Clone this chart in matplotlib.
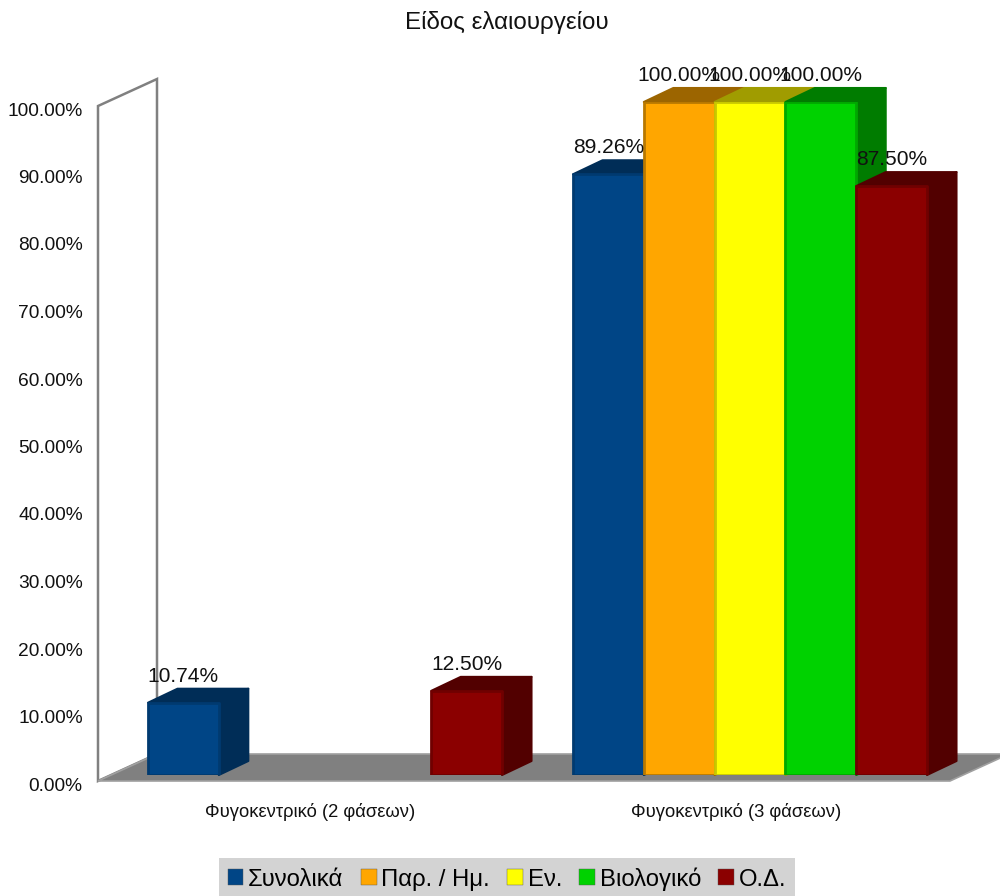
import numpy as np
import matplotlib
matplotlib.use("Agg")
import matplotlib.pyplot as plt
from matplotlib.patches import Polygon, Patch
from matplotlib.transforms import ScaledTranslation

plt.rcParams['font.family'] = ['Liberation Sans', 'DejaVu Sans']

title = "Είδος ελαιουργείου"
categories = ["Φυγοκεντρικό (2 φάσεων)", "Φυγοκεντρικό (3 φάσεων)"]
series_names = ["Συνολικά", "Παρ. / Ημ.", "Εν.", "Βιολογικό", "Ο.Δ."]
total = [10.74, 89.26]
par_im = [None, 100.0]
en = [None, 100.0]
bio = [None, 100.0]
od = [12.5, 87.5]
all_series = [total, par_im, en, bio, od]
colors = ["#004586", "#ffa600", "#ffff00", "#00d200", "#8b0000"]
side_colors = ["#002d57", "#9c6500", "#a09c00", "#007c00", "#520000"]
edge_colors = ["#003a70", "#b87800", "#c8c800", "#00a800", "#700000"]
yticks = np.arange(0, 101, 10)

W, H = 1000, 896


def box(left, top, right, bottom):
    # pixel box -> figure fractions
    return [left / W, 1 - bottom / H, (right - left) / W, (bottom - top) / H]


fig = plt.figure(figsize=(W / 100, H / 100), dpi=100)
fig.patch.set_facecolor("white")

# frame of the fake 3d chart: wall, floor and tick labels
ax = fig.add_axes(box(98, 106, 950, 781))
ax.set_xlim(0, 2)
ax.set_ylim(0, 100)
for s in ax.spines.values():
    s.set_visible(False)
ax.patch.set_alpha(0)
ax.set_yticks(yticks)
ax.set_yticklabels(["%.2f%%" % t for t in yticks], fontsize=13.8, color="#111111")
ax.set_xticks([0.498, 1.497])
ax.set_xticklabels(categories, fontsize=13.2, color="#111111")
ax.tick_params(axis="y", length=0, pad=11)
ax.tick_params(axis="x", length=0, pad=16)
down = ScaledTranslation(0, -3 / 100.0, fig.dpi_scale_trans)
for lab in ax.get_yticklabels():
    lab.set_transform(lab.get_transform() + down)

wall_dx = 59 / 426.0
wall_dy = 27 / 6.75
ax.add_patch(Polygon([(0, 0), (0, 100), (wall_dx, 100 + wall_dy), (wall_dx, wall_dy)],
                     closed=True, fc="white", ec="#808080", lw=1.8, clip_on=False, zorder=1))
ax.add_patch(Polygon([(0, 0), (2, 0), (2 + wall_dx, wall_dy), (wall_dx, wall_dy)],
                     closed=True, fc="#808080", ec="#a0a0a0", lw=1.2, clip_on=False, zorder=2))

# bars sit a little in front of the floor, so they get their own axes
ax2 = fig.add_axes(box(112.5, 102, 962.5, 775))
ax2.set_xlim(0, 2)
ax2.set_ylim(0, 100)
ax2.axis("off")
ax2.patch.set_alpha(0)

bar_w = 70.8 / 425.0
depth_x = 29.5 / 425.0
depth_y = 14 / 6.73
n = len(all_series)

for g in range(len(categories)):
    for i in range(n):
        v = all_series[i][g]
        if v is None:
            continue
        x0 = g + 0.5 + (i - n / 2.0) * bar_w
        x1 = x0 + bar_w
        # depth faces first, front on top
        ax2.add_patch(Polygon([(x1, 0), (x1, v), (x1 + depth_x, v + depth_y), (x1 + depth_x, depth_y)],
                              closed=True, fc=side_colors[i], ec=side_colors[i], lw=1.5,
                              joinstyle="round", clip_on=False, zorder=3 + i))
        ax2.add_patch(Polygon([(x0, v), (x0 + depth_x, v + depth_y), (x1 + depth_x, v + depth_y), (x1, v)],
                              closed=True, fc=side_colors[i], ec=side_colors[i], lw=1.5,
                              joinstyle="round", clip_on=False, zorder=3 + i))
        ax2.bar(x0, v, width=bar_w, align="edge", color=colors[i], edgecolor=edge_colors[i],
                linewidth=2.0, zorder=3 + i, joinstyle="round")

# labels go over everything
for g in range(len(categories)):
    for i in range(n):
        v = all_series[i][g]
        if v is None:
            continue
        xc = g + 0.5 + (i - n / 2.0 + 0.5) * bar_w
        ax2.annotate("%.2f%%" % v, (xc, v), xytext=(0, 19), textcoords="offset points",
                     ha="center", va="center", fontsize=15.1, color="#111111", zorder=20,
                     annotation_clip=False)

fig.text(507 / W, 1 - 22 / H, title, ha="center", va="center", fontsize=17.4, color="#111111")

handles = [Patch(facecolor=c, edgecolor="#555555", linewidth=0.3) for c in colors]
leg = fig.legend(handles, series_names, ncol=5, loc="center", bbox_to_anchor=(507 / W, 1 - 879 / H),
                 fontsize=17.2, frameon=True, facecolor="#d3d3d3", edgecolor="none", framealpha=1,
                 fancybox=False, handlelength=0.66, handleheight=0.66, handletextpad=0.2,
                 columnspacing=0.72, borderpad=0.38, borderaxespad=0)

fig.savefig("out.png", dpi=100)
